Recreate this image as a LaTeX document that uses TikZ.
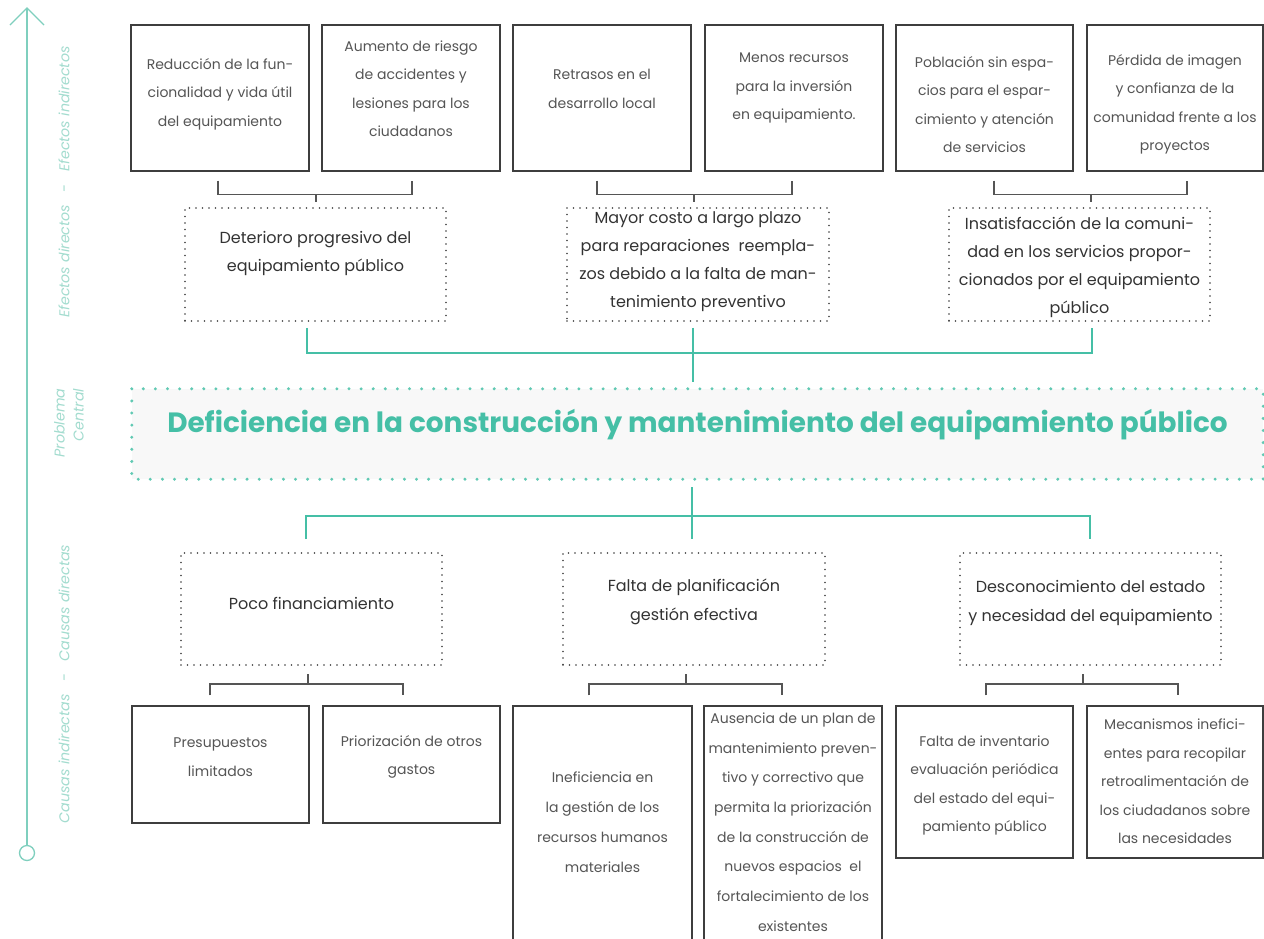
\documentclass[tikz,border=0pt]{standalone}
\usepackage{fontspec}
\setmainfont{Poppins}
\usetikzlibrary{calc}
\definecolor{myteal}{HTML}{45BFA6}
\definecolor{axteal}{HTML}{7FCFBE}
\definecolor{labteal}{HTML}{A3DCCF}
\definecolor{boxgray}{HTML}{3E3E3E}
\definecolor{txtgray}{HTML}{555555}
\definecolor{darktxt}{HTML}{333333}
\definecolor{brgray}{HTML}{555555}
\definecolor{cpfill}{HTML}{F8F8F8}
\tikzset{
  sbox/.style={draw=boxgray, line width=1.3, inner sep=0, minimum width=177, minimum height=146},
  dbox/.style={draw=boxgray, line width=1.8, dash pattern=on 0pt off 6.5pt, line cap=round, inner sep=0, minimum width=261, minimum height=113},
  stxt/.style={align=center, text=txtgray, inner sep=0, font=\fontsize{14}{28.5}\selectfont},
  dtxt/.style={align=center, text=darktxt, inner sep=0, font=\fontsize{16}{28}\selectfont},
  br/.style={draw=brgray, line width=1.2},
  tl/.style={draw=myteal, line width=2},
  axlab/.style={rotate=90, text=labteal, inner sep=0, font=\fontsize{14.2}{19}\selectfont\itshape},
}
\begin{document}
\begin{tikzpicture}[x=1pt,y=-1pt]
\useasboundingbox (0,0) rectangle (1264,938);
\fill[white] (0,0) rectangle (1264,938);
\clip (0,0) rectangle (1264,938);

% ---------- axis ----------
\node[circle, draw=axteal, line width=1.3, minimum size=15, inner sep=0] (axc) at (27,853) {};
\coordinate (axtop) at (27,8);
\draw[draw=axteal, line width=1.2] (axc.north) -- (axtop);
\draw[draw=axteal, line width=1.2] ($(axtop)+(-17,17)$) -- (axtop) -- ($(axtop)+(17,17)$);
\node[axlab] (ax1) at (64,182) {Efectos directos \ \ - \ \ Efectos indirectos};
\node[axlab, align=right] (ax2) at (69,423) {Problema\\Central};
\node[axlab] (ax3) at (64,684) {Causas indirectas \ \ - \ \ Causas directas};

% ---------- top boxes ----------
\node[sbox, minimum width=178] (b1) at (220,98) {};
\node[sbox, minimum width=178] (b2) at (411,98) {};
\node[sbox, minimum width=178] (b3) at (602,98) {};
\node[sbox, minimum width=178] (b4) at (794,98) {};
\node[sbox] (b5) at (984.5,98) {};
\node[sbox, minimum width=176] (b6) at (1175,98) {};
\node[stxt] (b1t) at (220,94) {Reducción de la fun-\\cionalidad y vida útil\\del equipamiento};
\node[stxt] (b2t) at (411,88.5) {Aumento de riesgo\\de accidentes y\\lesiones para los\\ciudadanos};
\node[stxt] (b3t) at (602,89) {Retrasos en el\\desarrollo local};
\node[stxt] (b4t) at (794,88) {Menos recursos\\para la inversión\\en equipamiento.};
\node[stxt] (b5t) at (984.5,104.5) {Población sin espa-\\cios para el espar-\\cimiento y atención\\de servicios};
\node[stxt] (b6t) at (1175,104.5) {Pérdida de imagen\\y confianza de la\\comunidad frente a los\\proyectos};

% ---------- direct effects ----------
\node[dbox] (d1) at (315.5,264.5) {};
\node[dbox, minimum width=262] (d2) at (698,264.5) {};
\node[dbox] (d3) at (1079.5,264.5) {};
\node[dtxt] (d1t) at (315.5,253) {Deterioro progresivo del\\equipamiento público};
\node[dtxt] (d2t) at (698,262) {Mayor costo a largo plazo\\para reparaciones\ \ reempla-\\zos debido a la falta de man-\\tenimiento preventivo};
\node[dtxt] (d3t) at (1079.5,267.5) {Insatisfacción de la comuni-\\dad en los servicios propor-\\cionados por el equipamiento\\público};

% top brackets
\coordinate (j1) at ($(d1.north)+(0.5,-13)$);
\draw[br] ($(b1.south)+(-2,9)$) |- (j1) -| ($(b2.south)+(1,9)$);
\draw[br] (j1) -- ($(d1.north)+(0.5,-5)$);
\coordinate (j2) at ($(d2.north)+(-4,-13)$);
\draw[br] ($(b3.south)+(-5,9)$) |- (j2) -| ($(b4.south)+(-2,9)$);
\draw[br] (j2) -- ($(d2.north)+(-4,-5)$);
\coordinate (j3) at ($(d3.north)+(11.5,-13)$);
\draw[br] ($(b5.south)+(9.5,9)$) |- (j3) -| ($(b6.south)+(12,9)$);
\draw[br] (j3) -- ($(d3.north)+(11.5,-5)$);

% ---------- central problem ----------
\node[fill=cpfill, inner sep=0, minimum width=1131, minimum height=90] (cp) at (697.5,434) {};
\draw[draw=myteal!85, line width=3.3, dash pattern=on 0pt off 12.1pt, line cap=round] (cp.north west) rectangle (cp.south east);
\node[text=myteal, inner sep=0, font=\fontsize{27.9}{32}\selectfont\bfseries] (cpt) at (697.5,425) {Deficiencia en la construcción y mantenimiento del equipamiento público};

% teal connectors
\coordinate (tj1) at ($(cp.north)+(-4.5,-36)$);
\draw[tl] ($(d1.south)+(-8.5,6)$) |- (tj1) -| ($(d3.south)+(12.5,6)$);
\draw[tl] ($(d2.south)+(-5,6)$) -- ($(cp.north)+(-4.5,-7)$);

% ---------- direct causes ----------
\node[dbox, minimum height=112] (l1) at (311.5,609) {};
\node[dbox, minimum height=112, minimum width=262] (l2) at (694,609) {};
\node[dbox, minimum height=112] (l3) at (1090.5,609) {};
\node[dtxt] (l1t) at (311.5,603) {Poco financiamiento};
\node[dtxt, font=\fontsize{16}{29}\selectfont] (l2t) at (694,602) {Falta de planificación\\gestión efectiva};
\node[dtxt, font=\fontsize{16}{29}\selectfont] (l3t) at (1090.5,603) {Desconocimiento del estado\\y necesidad del equipamiento};

\coordinate (tj2) at ($(cp.south)+(-5.5,37)$);
\draw[tl] ($(l1.north)+(-5.5,-13)$) |- (tj2) -| ($(l3.north)+(-0.5,-13)$);
\draw[tl] ($(cp.south)+(-5.5,8)$) -- ($(l2.north)+(-2,-13)$);

% ---------- indirect causes ----------
\node[sbox, minimum height=117] (c1) at (220.5,764.5) {};
\node[sbox, minimum height=117] (c2) at (411.5,764.5) {};
\node[sbox, minimum width=179, minimum height=239] (c3) at (602.5,825.5) {};
\node[sbox, minimum width=178, minimum height=239] (c4) at (793,825.5) {};
\node[sbox, minimum height=152] (c5) at (984.5,782) {};
\node[sbox, minimum width=176, minimum height=152] (c6) at (1175,782) {};
\node[stxt] (c1t) at (220.5,757) {Presupuestos\\limitados};
\node[stxt] (c2t) at (411.5,757) {Priorización de otros\\gastos};
\node[stxt, font=\fontsize{14}{30}\selectfont] (c3t) at (602.5,822) {Ineficiencia en\\la gestión de los\\recursos humanos\\materiales};
\node[stxt, font=\fontsize{14}{29.7}\selectfont] (c4t) at (793,822) {Ausencia de un plan de\\mantenimiento preven-\\tivo y correctivo que\\permita la priorización\\de la construcción de\\nuevos espacios\ \ el\\fortalecimiento de los\\existentes};
\node[stxt] (c5t) at (984.5,785.5) {Falta de inventario\\evaluación periódica\\del estado del equi-\\pamiento público};
\node[stxt] (c6t) at (1175,781.5) {Mecanismos inefici-\\entes para recopilar\\retroalimentación de\\los ciudadanos sobre\\las necesidades};

% bottom brackets
\coordinate (k1) at ($(l1.south)+(-3.5,18)$);
\draw[br] ($(c1.north)+(-10.5,-10)$) |- (k1) -| ($(c2.north)+(-8.5,-10)$);
\draw[br] (k1) -- ($(l1.south)+(-3.5,8)$);
\coordinate (k2) at ($(l2.south)+(-8,18)$);
\draw[br] ($(c3.north)+(-13.5,-10)$) |- (k2) -| ($(c4.north)+(-11,-10)$);
\draw[br] (k2) -- ($(l2.south)+(-8,8)$);
\coordinate (k3) at ($(l3.south)+(-7.5,18)$);
\draw[br] ($(c5.north)+(1.5,-10)$) |- (k3) -| ($(c6.north)+(3,-10)$);
\draw[br] (k3) -- ($(l3.south)+(-7.5,8)$);
\end{tikzpicture}
\end{document}
